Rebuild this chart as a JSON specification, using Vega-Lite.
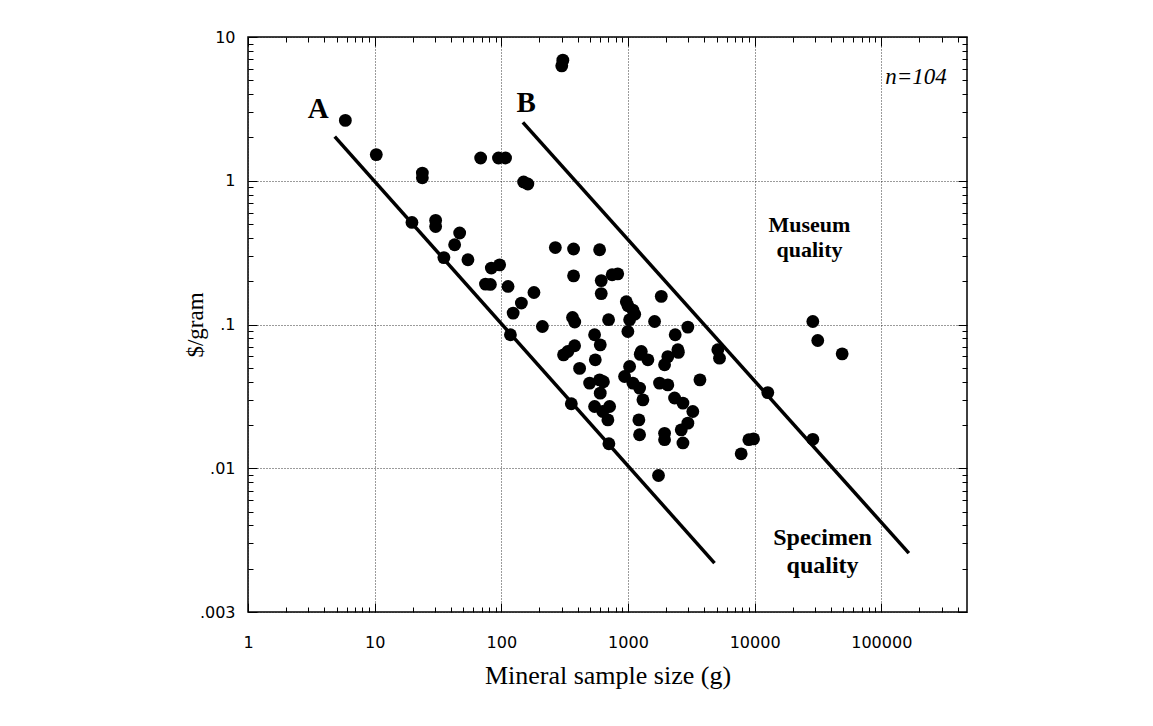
{
  "$schema": "https://vega.github.io/schema/vega-lite/v6.json",
  "width": 719,
  "height": 575,
  "autosize": "none",
  "padding": {"left": 248, "top": 37, "right": 186, "bottom": 114},
  "background": "white",
  "config": {
    "view": {"stroke": "black", "strokeWidth": 1.5},
    "axis": {"domain": false, "tickColor": "black", "tickWidth": 1, "labelColor": "black", "titleColor": "black", "labelFlush": false, "labelOverlap": false}
  },
  "resolve": {"axis": {"x": "independent", "y": "independent"}},
  "layer": [
    {
      "data": {"values": [
        {"line": "A", "size": 4.84, "price": 2.03}, {"line": "A", "size": 4822, "price": 0.00219},
        {"line": "B", "size": 148, "price": 2.55}, {"line": "B", "size": 165000, "price": 0.00257}
      ]},
      "mark": {"type": "line", "color": "black", "strokeWidth": 3.5, "strokeCap": "butt"},
      "encoding": {
        "x": {"field": "size", "type": "quantitative", "scale": {"type": "log", "domain": [1, 475000], "nice": false},
          "axis": {"orient": "top", "title": null, "labels": false, "grid": false, "offset": -9, "tickSize": 9,
            "values": [1,10,100,1000,10000,100000]}},
        "y": {"field": "price", "type": "quantitative", "scale": {"type": "log", "domain": [0.001, 10], "nice": false},
          "axis": {"orient": "right", "title": null, "labels": false, "grid": false, "offset": -9, "tickSize": 9,
            "values": [0.001,0.01,0.1,1,10]}},
        "detail": {"field": "line", "type": "nominal"}
      }
    },
    {
      "data": {"values": [
        {"size": 5.87, "price": 2.63}, {"size": 10.3, "price": 1.52}, {"size": 23.8, "price": 1.05}, {"size": 23.8, "price": 1.13},
        {"size": 68.7, "price": 1.44}, {"size": 95, "price": 1.44}, {"size": 108, "price": 1.44}, {"size": 150, "price": 0.98},
        {"size": 162, "price": 0.95}, {"size": 300, "price": 6.3}, {"size": 306, "price": 6.9}, {"size": 19.7, "price": 0.513},
        {"size": 30.3, "price": 0.48}, {"size": 30.3, "price": 0.53}, {"size": 46.9, "price": 0.433}, {"size": 42.8, "price": 0.359},
        {"size": 35.2, "price": 0.292}, {"size": 54.5, "price": 0.282}, {"size": 83.4, "price": 0.247}, {"size": 97, "price": 0.26},
        {"size": 75, "price": 0.191}, {"size": 82, "price": 0.19}, {"size": 113, "price": 0.184}, {"size": 181, "price": 0.167},
        {"size": 124, "price": 0.12}, {"size": 144, "price": 0.141}, {"size": 211, "price": 0.0968}, {"size": 118, "price": 0.0848},
        {"size": 267, "price": 0.343}, {"size": 372, "price": 0.335}, {"size": 372, "price": 0.218}, {"size": 365, "price": 0.112},
        {"size": 380, "price": 0.104}, {"size": 597, "price": 0.331}, {"size": 615, "price": 0.202}, {"size": 615, "price": 0.164},
        {"size": 750, "price": 0.222}, {"size": 830, "price": 0.225}, {"size": 970, "price": 0.144}, {"size": 1093, "price": 0.126},
        {"size": 1030, "price": 0.108}, {"size": 998, "price": 0.0894}, {"size": 1832, "price": 0.157}, {"size": 1622, "price": 0.105},
        {"size": 703, "price": 0.108}, {"size": 2970, "price": 0.0959}, {"size": 2360, "price": 0.0848}, {"size": 545, "price": 0.0848},
        {"size": 604, "price": 0.0722}, {"size": 552, "price": 0.0568}, {"size": 310, "price": 0.0615}, {"size": 379, "price": 0.0711},
        {"size": 335, "price": 0.0649}, {"size": 1274, "price": 0.0649}, {"size": 1436, "price": 0.0568}, {"size": 2064, "price": 0.0598},
        {"size": 1945, "price": 0.0525}, {"size": 2477, "price": 0.0667}, {"size": 1030, "price": 0.051}, {"size": 5120, "price": 0.0667},
        {"size": 5280, "price": 0.0583}, {"size": 3700, "price": 0.0412}, {"size": 12700, "price": 0.0336}, {"size": 9000, "price": 0.0158},
        {"size": 9800, "price": 0.016}, {"size": 7830, "price": 0.0126}, {"size": 28800, "price": 0.0159}, {"size": 28800, "price": 0.105},
        {"size": 31500, "price": 0.0774}, {"size": 49100, "price": 0.0625}, {"size": 415, "price": 0.0495}, {"size": 498, "price": 0.0391},
        {"size": 597, "price": 0.0412}, {"size": 604, "price": 0.0333}, {"size": 545, "price": 0.0269}, {"size": 716, "price": 0.0269},
        {"size": 632, "price": 0.0248}, {"size": 694, "price": 0.0217}, {"size": 707, "price": 0.0148}, {"size": 940, "price": 0.0435},
        {"size": 1093, "price": 0.0391}, {"size": 1235, "price": 0.0361}, {"size": 1312, "price": 0.0299}, {"size": 1775, "price": 0.0391},
        {"size": 2064, "price": 0.038}, {"size": 2333, "price": 0.0308}, {"size": 2716, "price": 0.0284}, {"size": 3250, "price": 0.0248},
        {"size": 2970, "price": 0.0206}, {"size": 2634, "price": 0.0185}, {"size": 2716, "price": 0.015}, {"size": 1219, "price": 0.0217},
        {"size": 1235, "price": 0.0171}, {"size": 1945, "price": 0.0175}, {"size": 1945, "price": 0.0158}, {"size": 1742, "price": 0.0089},
        {"size": 357, "price": 0.0281}, {"size": 1000, "price": 0.135}, {"size": 1130, "price": 0.118}, {"size": 640, "price": 0.04},
        {"size": 1250, "price": 0.062}, {"size": 2500, "price": 0.064}
      ]},
      "mark": {"type": "circle", "color": "black", "opacity": 1, "size": 165},
      "encoding": {
        "x": {"field": "size", "type": "quantitative", "scale": {"type": "log", "domain": [1, 475000], "nice": false},
          "axis": {"orient": "bottom", "title": "Mineral sample size (g)", "offset": -9, "tickSize": 9,
            "values": [1,10,100,1000,10000,100000],
            "format": "d",
            "grid": true, "gridColor": "#222", "gridDash": [1, 2], "gridWidth": 1, "gridOpacity": 0.9,
            "labelFont": "DejaVu Sans", "labelFontSize": 16, "labelPadding": 22,
            "titleFont": "Liberation Serif", "titleFontSize": 26, "titleFontWeight": "normal", "titlePadding": 12}},
        "y": {"field": "price", "type": "quantitative", "scale": {"type": "log", "domain": [0.001, 10], "nice": false},
          "axis": {"orient": "left", "title": "$/gram", "offset": -9, "tickSize": 9,
            "values": [0.001,0.01,0.1,1,10],
            "labelExpr": "datum.value == 10 ? '10' : datum.value == 1 ? '1' : datum.value == 0.1 ? '.1' : datum.value == 0.01 ? '.01' : '.003'",
            "grid": true, "gridColor": "#222", "gridDash": [1, 2], "gridWidth": 1, "gridOpacity": 0.9,
            "labelFont": "DejaVu Sans", "labelFontSize": 16, "labelPadding": 13,
            "titleFont": "Liberation Serif", "titleFontSize": 23, "titleFontWeight": "normal", "titlePadding": -8}}
      }
    },
    {
      "data": {"values": [
        {"label": "A", "size": 3.58, "price": 2.74},
        {"label": "B", "size": 157, "price": 3.03}
      ]},
      "mark": {"type": "text", "font": "Liberation Serif", "fontWeight": "bold", "fontSize": 29, "align": "center", "baseline": "alphabetic", "color": "black"},
      "encoding": {
        "x": {"field": "size", "type": "quantitative", "scale": {"type": "log", "domain": [1, 475000], "nice": false},
          "axis": {"orient": "bottom", "title": null, "labels": false, "grid": false, "offset": -5, "tickSize": 5,
            "values": [2,3,4,5,6,7,8,9,20,30,40,50,60,70,80,90,200,300,400,500,600,700,800,900,2000,3000,4000,5000,6000,7000,8000,9000,20000,30000,40000,50000,60000,70000,80000,90000,200000,300000,400000]}},
        "y": {"field": "price", "type": "quantitative", "scale": {"type": "log", "domain": [0.001, 10], "nice": false},
          "axis": {"orient": "left", "title": null, "labels": false, "grid": false, "offset": -5, "tickSize": 5,
            "values": [0.002,0.003,0.004,0.005,0.006,0.007,0.008,0.009,0.02,0.03,0.04,0.05,0.06,0.07,0.08,0.09,0.2,0.3,0.4,0.5,0.6,0.7,0.8,0.9,2,3,4,5,6,7,8,9]}},
        "text": {"field": "label"}
      }
    },
    {
      "data": {"values": [
        {"label": "Museum\nquality", "size": 27100, "price": 0.49}
      ]},
      "mark": {"type": "text", "font": "Liberation Serif", "fontWeight": "bold", "fontSize": 22, "lineBreak": "\n", "lineHeight": 25, "align": "center", "baseline": "middle", "color": "black"},
      "encoding": {
        "x": {"field": "size", "type": "quantitative", "scale": {"type": "log", "domain": [1, 475000], "nice": false},
          "axis": {"orient": "top", "title": null, "labels": false, "grid": false, "offset": -5, "tickSize": 5,
            "values": [2,3,4,5,6,7,8,9,20,30,40,50,60,70,80,90,200,300,400,500,600,700,800,900,2000,3000,4000,5000,6000,7000,8000,9000,20000,30000,40000,50000,60000,70000,80000,90000,200000,300000,400000]}},
        "y": {"field": "price", "type": "quantitative", "scale": {"type": "log", "domain": [0.001, 10], "nice": false},
          "axis": {"orient": "right", "title": null, "labels": false, "grid": false, "offset": -5, "tickSize": 5,
            "values": [0.002,0.003,0.004,0.005,0.006,0.007,0.008,0.009,0.02,0.03,0.04,0.05,0.06,0.07,0.08,0.09,0.2,0.3,0.4,0.5,0.6,0.7,0.8,0.9,2,3,4,5,6,7,8,9]}},
        "text": {"field": "label"}
      }
    },
    {
      "data": {"values": [
        {"label": "Specimen\nquality", "size": 34400, "price": 0.00328}
      ]},
      "mark": {"type": "text", "font": "Liberation Serif", "fontWeight": "bold", "fontSize": 24, "lineBreak": "\n", "lineHeight": 28, "align": "center", "baseline": "middle", "color": "black"},
      "encoding": {
        "x": {"field": "size", "type": "quantitative", "scale": {"type": "log", "domain": [1, 475000], "nice": false}, "axis": null},
        "y": {"field": "price", "type": "quantitative", "scale": {"type": "log", "domain": [0.001, 10], "nice": false}, "axis": null},
        "text": {"field": "label"}
      }
    },
    {
      "data": {"values": [
        {"label": "n=104", "size": 188000, "price": 4.73}
      ]},
      "mark": {"type": "text", "font": "Liberation Serif", "fontStyle": "italic", "fontSize": 23, "align": "center", "baseline": "alphabetic", "color": "black"},
      "encoding": {
        "x": {"field": "size", "type": "quantitative", "scale": {"type": "log", "domain": [1, 475000], "nice": false}, "axis": null},
        "y": {"field": "price", "type": "quantitative", "scale": {"type": "log", "domain": [0.001, 10], "nice": false}, "axis": null},
        "text": {"field": "label"}
      }
    }
  ]
}
